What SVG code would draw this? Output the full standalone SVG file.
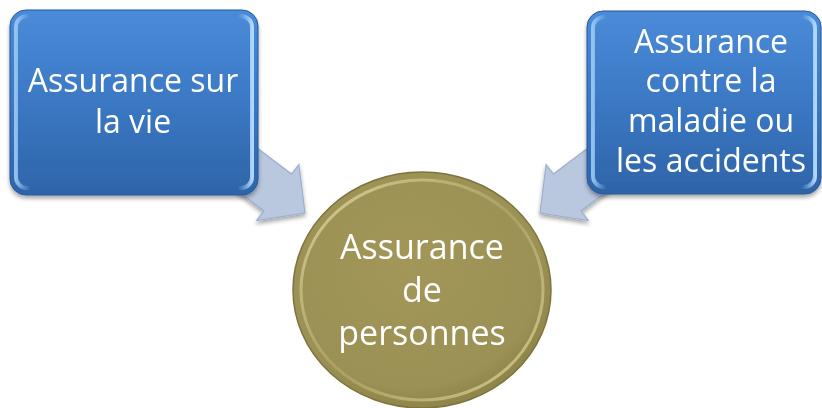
<svg xmlns="http://www.w3.org/2000/svg" width="822" height="408" viewBox="0 0 822 408">
  <defs>
    <linearGradient id="boxFill" x1="0" y1="0" x2="0" y2="1">
      <stop offset="0" stop-color="#4a8bd8"/>
      <stop offset="0.5" stop-color="#3b78c4"/>
      <stop offset="1" stop-color="#2e64a8"/>
    </linearGradient>
    <linearGradient id="boxSheen" x1="0" y1="0" x2="1" y2="0">
      <stop offset="0" stop-color="#9ccaf5" stop-opacity="0.9"/>
      <stop offset="0.06" stop-color="#9ccaf5" stop-opacity="0"/>
      <stop offset="0.94" stop-color="#9ccaf5" stop-opacity="0"/>
      <stop offset="1" stop-color="#b6dcff" stop-opacity="0.95"/>
    </linearGradient>
    <radialGradient id="discFill" cx="0.45" cy="0.4" r="0.6">
      <stop offset="0" stop-color="#a29759"/>
      <stop offset="0.85" stop-color="#9c9154"/>
      <stop offset="1" stop-color="#8f8449"/>
    </radialGradient>
    <linearGradient id="discRim" x1="0" y1="0" x2="1" y2="1">
      <stop offset="0" stop-color="#e6dea6"/>
      <stop offset="0.5" stop-color="#c9bf82" stop-opacity="0.4"/>
      <stop offset="1" stop-color="#e2da9e"/>
    </linearGradient>
    <filter id="softShadow" x="-10%" y="-10%" width="120%" height="125%">
      <feGaussianBlur in="SourceAlpha" stdDeviation="2"/>
      <feOffset dx="0" dy="3" result="b"/>
      <feComponentTransfer><feFuncA type="linear" slope="0.35"/></feComponentTransfer>
      <feMerge><feMergeNode/><feMergeNode in="SourceGraphic"/></feMerge>
    </filter>
    <!-- block arrow pointing down-right, tail tucked under the left box -->
    <polygon id="blockArrow" points="251.7,144.0 291.6,174.1 298.9,164.5 305,213 256.7,220.5 263.9,210.9 224.1,180.8"/>
  </defs>
  <style>
    .arrow { fill: #b9c7df; stroke: #9dafcb; stroke-width: 1.2; stroke-linejoin: miter; }
    .box { fill: url(#boxFill); stroke: #27589a; stroke-width: 1; }
    .sheen { fill: none; stroke: url(#boxSheen); stroke-width: 4; }
    .label { font-family: "Open Sans", "Noto Sans", "Liberation Sans", sans-serif; fill: #ffffff; text-anchor: middle; }
    .boxText { font-size: 32px; }
    .discText { font-size: 34px; }
  </style>

  <!-- connectors -->
  <g id="connectors" filter="url(#softShadow)">
    <use href="#blockArrow" class="arrow"/>
    <use href="#blockArrow" class="arrow" transform="matrix(-1 0 0 1 845 0)"/>
  </g>

  <!-- left source box -->
  <g id="node-vie" filter="url(#softShadow)">
    <rect class="box" x="10" y="10" width="248" height="185" rx="16"/>
    <rect class="sheen" x="16" y="16" width="236" height="172" rx="11"/>
    <text class="label boxText" x="133" y="92">Assurance sur</text>
    <text class="label boxText" x="133" y="133">la vie</text>
  </g>

  <!-- right source box -->
  <g id="node-maladie" filter="url(#softShadow)">
    <rect class="box" x="587" y="11" width="234" height="183" rx="16"/>
    <rect class="sheen" x="593" y="17" width="222" height="170" rx="11"/>
    <text class="label boxText" x="711" y="53">Assurance</text>
    <text class="label boxText" x="711" y="92">contre la</text>
    <text class="label boxText" x="711" y="132">maladie ou</text>
    <text class="label boxText" x="711" y="172">les accidents</text>
  </g>

  <!-- central target disc -->
  <g id="node-personnes">
    <ellipse cx="422" cy="290" rx="129" ry="118" fill="url(#discFill)" stroke="#7d733e" stroke-width="1.5"/>
    <ellipse cx="422" cy="290" rx="121" ry="110" fill="none" stroke="url(#discRim)" stroke-width="3" opacity="0.85"/>
    <text class="label discText" x="422" y="259">Assurance</text>
    <text class="label discText" x="422" y="302">de</text>
    <text class="label discText" x="422" y="345">personnes</text>
  </g>
</svg>
